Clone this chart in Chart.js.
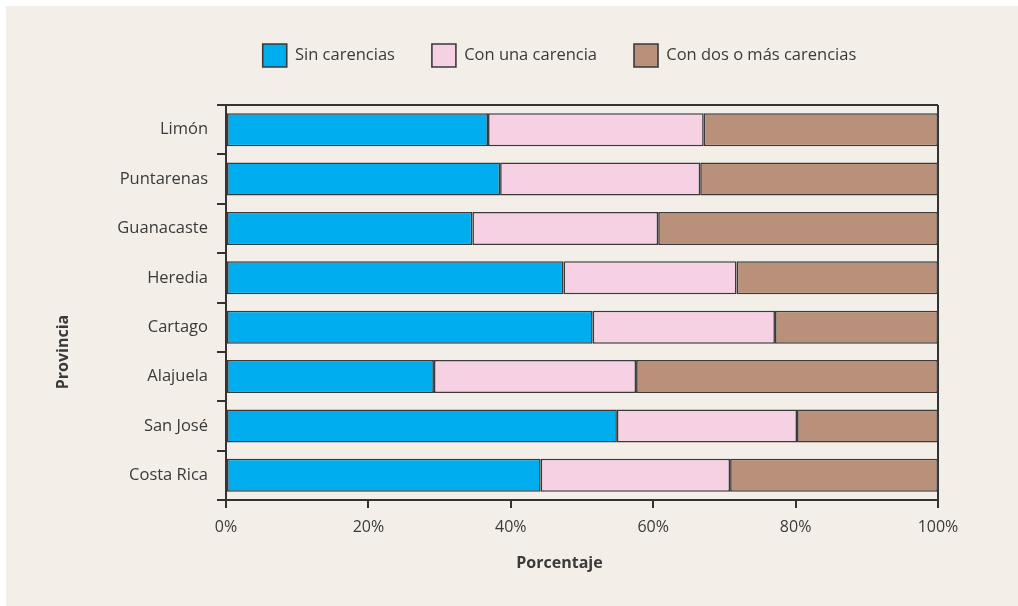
<!DOCTYPE html>
<html><head><meta charset="utf-8">
<script src="https://cdn.jsdelivr.net/npm/chart.js@4"></script>
<style>
html,body{margin:0;padding:0;background:#ffffff;}
#wrap{position:absolute;left:6px;top:6px;width:1012px;height:600px;}
</style></head><body>
<div id="wrap"><canvas id="c"></canvas></div>
<script>
const provincias = ['Limón','Puntarenas','Guanacaste','Heredia','Cartago','Alajuela','San José','Costa Rica'];
const sinCarencias   = [36.8, 38.5, 34.6, 47.4, 51.5, 29.2, 54.9, 44.2];
const conUnaCarencia = [30.3, 28.1, 26.1, 24.3, 25.6, 28.4, 25.3, 26.6];
const conDosOMas     = [32.9, 33.4, 39.3, 28.3, 22.9, 42.4, 19.8, 29.2];
const seriesNames = ['Sin carencias','Con una carencia','Con dos o más carencias'];
const xTitle = 'Porcentaje';
const yTitle = 'Provincia';

const FONT = "'Open Sans', 'Noto Sans', sans-serif";
const TXT = '#3a3a3a';
const DARK = '#333333';
const BG = '#f3efe8';

Chart.defaults.font.family = FONT;
Chart.defaults.font.size = 16;
Chart.defaults.color = TXT;

const bgPlugin = {
  id: 'bg',
  beforeDraw(chart) {
    const c = chart.ctx;
    c.save(); c.fillStyle = BG; c.fillRect(0, 0, chart.width, chart.height); c.restore();
  }
};
const legendSpacer = {
  id: 'legendSpacer',
  beforeLayout(chart) {
    const lg = chart.legend;
    if (lg && !lg._spaced) {
      const fit = lg.fit;
      lg.fit = function () { fit.call(this); this.height = 98; };
      lg._spaced = true;
    }
  }
};
const yTitlePlugin = {
  id: 'yTitle',
  afterDraw(chart) {
    const c = chart.ctx;
    c.save();
    c.translate(57, 346);
    c.rotate(-Math.PI / 2);
    c.font = 'bold 16px ' + FONT;
    c.fillStyle = TXT;
    c.textAlign = 'center';
    c.textBaseline = 'middle';
    c.fillText(yTitle, 0, 0);
    c.restore();
  }
};

const barBase = { borderColor: '#3a3a3a', borderWidth: 1.6, borderSkipped: false, barPercentage: 0.67, categoryPercentage: 1 };

new Chart(document.getElementById('c'), {
  type: 'bar',
  data: {
    labels: provincias,
    datasets: [
      Object.assign({ label: seriesNames[0], data: sinCarencias, backgroundColor: '#00aeef' }, barBase),
      Object.assign({ label: seriesNames[1], data: conUnaCarencia, backgroundColor: '#f5d1e3' }, barBase),
      Object.assign({ label: seriesNames[2], data: conDosOMas, backgroundColor: '#b9917a' }, barBase)
    ]
  },
  options: {
    indexAxis: 'y',
    responsive: true,
    maintainAspectRatio: false,
    animation: false,
    layout: { padding: { left: 100, right: 5, top: 1, bottom: 0 } },
    plugins: {
      legend: {
        position: 'top',
        align: 'center',
        labels: { boxWidth: 24, boxHeight: 23, padding: 37, color: TXT, font: { size: 16.5 } }
      },
      title: {
        display: true,
        position: 'bottom',
        text: xTitle,
        color: TXT,
        font: { size: 16, weight: 'bold' },
        padding: { top: 0, bottom: 33.4 }
      },
      tooltip: { enabled: false }
    },
    scales: {
      x: {
        stacked: true,
        min: 0, max: 100,
        afterFit(scale) { scale.height = 53.4; },
        ticks: { stepSize: 20, padding: 10, color: TXT, font: { size: 16 }, callback: v => v + '%' },
        grid: {
          drawOnChartArea: true,
          color: ctx => (ctx.tick && ctx.tick.value === 100) ? DARK : 'rgba(0,0,0,0)',
          tickColor: DARK,
          tickLength: 8,
          lineWidth: 2
        },
        border: { display: true, color: DARK, width: 2 }
      },
      y: {
        stacked: true,
        afterFit(scale) { scale.width = 120; },
        ticks: { padding: 9, color: TXT, font: { size: 16.5 } },
        grid: {
          offset: true,
          drawOnChartArea: true,
          color: ctx => ctx.index === 0 ? DARK : 'rgba(0,0,0,0)',
          tickColor: DARK,
          tickLength: 9,
          lineWidth: 2
        },
        border: { display: true, color: DARK, width: 2 }
      },
      ySpacer: {
        type: 'category',
        axis: 'y',
        position: 'right',
        afterFit(scale) { scale.width = 75; },
        ticks: { display: false },
        grid: { display: false },
        border: { display: false }
      }
    }
  },
  plugins: [bgPlugin, legendSpacer, yTitlePlugin]
});
</script>
</body></html>
